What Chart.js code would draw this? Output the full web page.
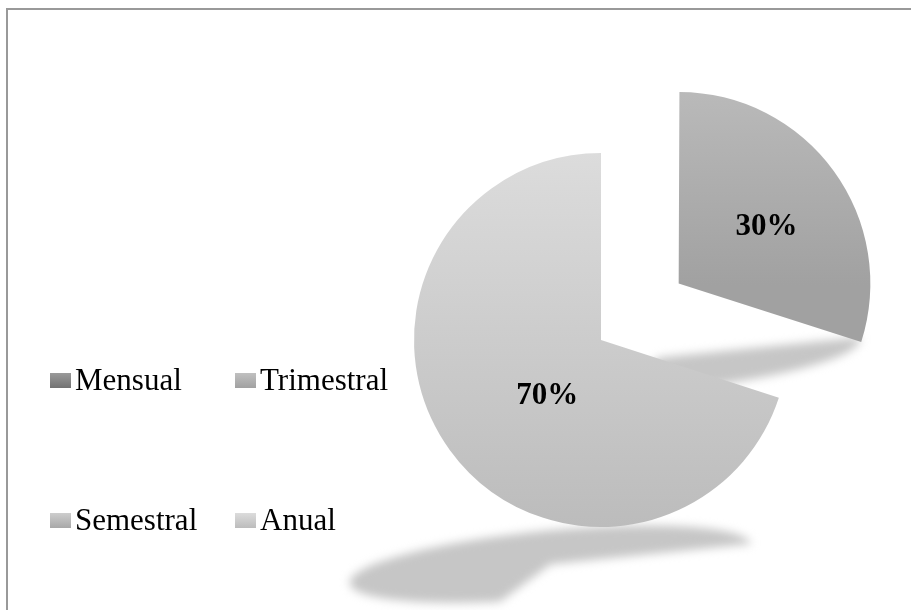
<!DOCTYPE html>
<html lang="es">
<head>
<meta charset="UTF-8">
<title>Periodicidad</title>
<script src="https://cdn.jsdelivr.net/npm/chart.js"></script>
<style>
  html, body { margin: 0; padding: 0; background: #fff; overflow: hidden; }
  #wrap { position: relative; width: 911px; height: 610px; overflow: hidden; }
  #frame { position: absolute; left: 6px; top: 8px; width: 1000px; height: 1000px; border: 2px solid #999; }
  #pieChart { position: absolute; left: 0; top: 0; }
</style>
</head>
<body>
<div id="wrap">
  <div id="frame"></div>
  <canvas id="pieChart" width="911" height="610"></canvas>
</div>
<script>
const categories = ['Mensual', 'Trimestral', 'Semestral', 'Anual'];
const shares = [0, 30, 0, 70];

// slice shading, top to bottom
const topColors = ['#9a9a9a', '#c0c0c0', '#cdcdcd', '#dcdcdc'];
const bottomColors = ['#727272', '#a1a1a1', '#a8a8a8', '#bcbcbc'];

const RADIUS = 187;
const SLICE_PULL = [0, 96, 0, 0];          // px each slice is pulled out
const LABEL_NUDGE = [[0, 0], [3, 5], [0, 0], [31, -6]];
const FONT = '"Liberation Serif", "Times New Roman", serif';

// points along a wedge plus its bounding box
function wedge(cx, cy, r, a0, a1) {
    const pts = [];
    const steps = Math.max(2, Math.ceil((a1 - a0) / 0.02));
    for (let s = 0; s <= steps; s++) {
        const a = a0 + (a1 - a0) * s / steps;
        pts.push({x: cx + r * Math.cos(a), y: cy + r * Math.sin(a)});
    }
    const all = pts.concat([{x: cx, y: cy}]);
    return {
        pts,
        left: Math.min(...all.map(p => p.x)),
        right: Math.max(...all.map(p => p.x)),
        top: Math.min(...all.map(p => p.y)),
        bottom: Math.max(...all.map(p => p.y))
    };
}

// centre of a slice after it has been pulled out (arc draws offset / 4)
function arcCenter(arc) {
    const half = (arc.startAngle + arc.endAngle) / 2;
    const pull = (arc.options.offset || 0) / 4;
    return {x: arc.x + Math.cos(half) * pull, y: arc.y + Math.sin(half) * pull, half};
}

function sliceFill(c) {
    const chart = c.chart;
    const area = chart.chartArea;
    const i = c.dataIndex;
    if (!area || i === undefined) return bottomColors[i] || '#cccccc';
    const total = shares.reduce((a, b) => a + b, 0);
    const before = shares.slice(0, i).reduce((a, b) => a + b, 0);
    const a0 = -Math.PI / 2 + before / total * 2 * Math.PI;
    const a1 = a0 + shares[i] / total * 2 * Math.PI;
    const half = (a0 + a1) / 2;
    const cx = (area.left + area.right) / 2 + Math.cos(half) * SLICE_PULL[i];
    const cy = (area.top + area.bottom) / 2 + Math.sin(half) * SLICE_PULL[i];
    const box = wedge(cx, cy, RADIUS, a0, a1);
    const g = chart.ctx.createLinearGradient(0, box.top, 0, box.bottom);
    g.addColorStop(0, topColors[i]);
    g.addColorStop(1, bottomColors[i]);
    return g;
}

// soft perspective shadow cast below each slice
const pieShadow = {
    id: 'pieShadow',
    beforeDatasetsDraw(chart) {
        const ctx = chart.ctx;
        ctx.save();
        ctx.filter = 'blur(5px)';
        ctx.fillStyle = '#c6c6c6';
        chart.getDatasetMeta(0).data.forEach(arc => {
            if (!arc.circumference) return;
            const c = arcCenter(arc);
            const w = wedge(c.x, c.y, arc.outerRadius, arc.startAngle, arc.endAngle);
            const bx = (w.left + w.right) / 2, by = w.bottom;
            const cast = p => {
                const h = by - p.y, dx = p.x - bx;
                return {x: bx + 1.04 * dx - 0.27 * h, y: by + 0.2 * h - 0.05 * dx};
            };
            ctx.beginPath();
            const o = cast(c);
            ctx.moveTo(o.x, o.y);
            w.pts.forEach(p => {
                const q = cast(p);
                ctx.lineTo(q.x, q.y);
            });
            ctx.closePath();
            ctx.fill();
        });
        ctx.restore();
    }
};

const sliceLabels = {
    id: 'sliceLabels',
    afterDatasetsDraw(chart) {
        const ctx = chart.ctx;
        const total = shares.reduce((a, b) => a + b, 0);
        ctx.save();
        ctx.font = 'bold 31px ' + FONT;
        ctx.fillStyle = '#000';
        ctx.textAlign = 'center';
        ctx.textBaseline = 'middle';
        chart.getDatasetMeta(0).data.forEach((arc, i) => {
            if (!shares[i]) return;
            const c = arcCenter(arc);
            const d = arc.outerRadius * 0.56;
            const x = c.x + Math.cos(c.half) * d + LABEL_NUDGE[i][0];
            const y = c.y + Math.sin(c.half) * d + LABEL_NUDGE[i][1];
            ctx.fillText(Math.round(shares[i] / total * 100) + '%', x, y);
        });
        ctx.restore();
    }
};

// two-column legend on the left
const keyLegend = {
    id: 'keyLegend',
    afterDraw(chart) {
        const ctx = chart.ctx;
        ctx.save();
        ctx.font = '31px ' + FONT;
        ctx.textBaseline = 'alphabetic';
        chart.data.labels.forEach((name, i) => {
            const x = 50 + (i % 2) * 185;
            const base = 390 + Math.floor(i / 2) * 140;
            const g = ctx.createLinearGradient(0, base - 17, 0, base - 2);
            g.addColorStop(0, topColors[i]);
            g.addColorStop(1, bottomColors[i]);
            ctx.fillStyle = g;
            ctx.fillRect(x, base - 17, 21, 15);
            ctx.fillStyle = '#000';
            ctx.fillText(name, x + 25, base);
        });
        ctx.restore();
    }
};

new Chart(document.getElementById('pieChart'), {
    type: 'pie',
    data: {
        labels: categories,
        datasets: [{
            data: shares,
            backgroundColor: sliceFill,
            borderWidth: 0,
            offset: SLICE_PULL.map(p => p * 4),
            radius: RADIUS
        }]
    },
    options: {
        responsive: false,
        animation: false,
        events: [],
        layout: { padding: { left: 300, right: 9, top: 70, bottom: 0 } },
        plugins: {
            legend: { display: false },
            tooltip: { enabled: false }
        }
    },
    plugins: [pieShadow, sliceLabels, keyLegend]
});
</script>
</body>
</html>
